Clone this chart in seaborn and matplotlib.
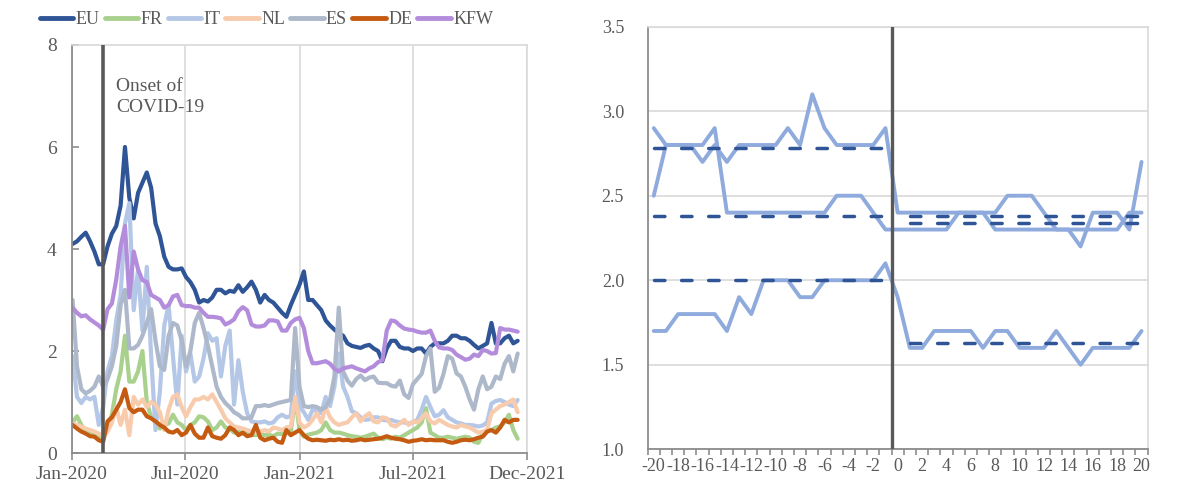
import matplotlib
matplotlib.use("Agg")
import matplotlib.pyplot as plt
import matplotlib.dates as mdates
from matplotlib.lines import Line2D
from matplotlib.ticker import FixedLocator, FuncFormatter
import numpy as np
import pandas as pd
import seaborn as sns

# ---- left panel: weekly spreads, Jan-2020 .. Dec-2021 ----
dates = pd.date_range("2020-01-02", periods=103, freq="7D")
series_names = ["EU", "FR", "IT", "NL", "ES", "DE", "KFW"]
onset_date = "2020-02-20"

eu = [4.10, 4.15, 4.24, 4.32, 4.15, 3.95, 3.70, 3.70, 4.05, 4.30,
      4.45, 4.85, 6.00, 5.00, 4.60, 5.10, 5.30, 5.50, 5.20, 4.50,
      4.25, 3.85, 3.65, 3.60, 3.60, 3.62, 3.45, 3.35, 3.20, 2.95,
      3.00, 2.97, 3.05, 3.20, 3.20, 3.13, 3.18, 3.16, 3.29, 3.16,
      3.25, 3.36, 3.20, 2.95, 3.10, 3.00, 2.95, 2.85, 2.75, 2.67,
      2.90, 3.10, 3.30, 3.56, 3.00, 3.00, 2.90, 2.80, 2.60, 2.50,
      2.42, 2.35, 2.30, 2.15, 2.10, 2.08, 2.06, 2.10, 2.12, 2.05,
      2.00, 1.80, 2.05, 2.20, 2.20, 2.08, 2.05, 2.05, 2.00, 2.05,
      2.05, 1.95, 2.08, 2.15, 2.15, 2.15, 2.20, 2.30, 2.30, 2.25,
      2.25, 2.20, 2.12, 2.05, 2.10, 2.15, 2.55, 2.15, 2.15, 2.25,
      2.30, 2.15, 2.20]

fr = [0.60, 0.72, 0.55, 0.42, 0.38, 0.34, 0.30, 0.30, 0.50, 0.75,
      1.25, 1.60, 2.30, 1.40, 1.40, 1.60, 2.00, 1.00, 0.70, 0.60,
      0.48, 0.55, 0.58, 0.75, 0.60, 0.55, 0.45, 0.55, 0.60, 0.72,
      0.70, 0.62, 0.45, 0.50, 0.62, 0.50, 0.48, 0.40, 0.42, 0.38,
      0.40, 0.36, 0.35, 0.38, 0.35, 0.36, 0.33, 0.38, 0.37, 0.40,
      0.40, 1.10, 0.45, 0.32, 0.36, 0.38, 0.40, 0.45, 0.60, 0.45,
      0.40, 0.40, 0.38, 0.35, 0.33, 0.32, 0.30, 0.32, 0.35, 0.38,
      0.30, 0.27, 0.30, 0.28, 0.32, 0.30, 0.35, 0.40, 0.45, 0.50,
      0.60, 0.88, 0.40, 0.35, 0.30, 0.30, 0.32, 0.30, 0.28, 0.30,
      0.32, 0.30, 0.22, 0.20, 0.38, 0.45, 0.45, 0.50, 0.52, 0.60,
      0.75, 0.45, 0.28]

it = [1.90, 1.10, 0.98, 1.10, 1.05, 1.10, 0.55, 0.90, 1.60, 1.90,
      2.60, 3.10, 4.50, 4.90, 2.80, 3.60, 2.40, 3.65, 1.90, 0.45,
      1.20, 2.50, 2.90, 1.90, 0.95, 2.30, 1.60, 1.95, 1.40, 1.50,
      1.85, 2.35, 2.20, 2.25, 1.50, 2.10, 2.40, 0.95, 1.82, 1.20,
      0.78, 0.62, 0.60, 0.60, 0.62, 0.58, 0.60, 0.70, 0.75, 0.70,
      0.72, 1.60, 0.92, 0.80, 0.65, 0.85, 0.82, 0.78, 1.10, 0.92,
      1.30, 1.95, 1.30, 1.10, 0.82, 0.78, 0.70, 0.65, 0.66, 0.70,
      0.70, 0.65, 0.64, 0.65, 0.62, 0.60, 0.60, 0.58, 0.60, 0.65,
      0.85, 1.10, 0.90, 0.72, 0.75, 0.84, 0.70, 0.65, 0.60, 0.58,
      0.55, 0.55, 0.54, 0.52, 0.54, 0.60, 0.97, 1.02, 1.04, 1.00,
      0.95, 0.92, 1.04]

nl = [0.58, 0.55, 0.52, 0.48, 0.45, 0.42, 0.38, 0.33, 0.42, 0.60,
      0.90, 0.55, 0.85, 0.35, 1.10, 0.95, 1.05, 0.90, 1.00, 0.95,
      0.80, 0.45, 0.85, 1.10, 1.15, 0.90, 0.72, 0.90, 1.05, 1.05,
      1.10, 1.05, 1.15, 1.00, 0.85, 0.68, 0.60, 0.52, 0.50, 0.48,
      0.45, 0.42, 0.40, 0.42, 0.45, 0.42, 0.50, 0.48, 0.45, 0.50,
      0.52, 1.10, 0.60, 0.50, 0.55, 0.65, 0.78, 0.60, 0.90, 0.70,
      0.60, 0.55, 0.58, 0.60, 0.70, 0.78, 0.62, 0.72, 0.78, 0.62,
      0.60, 0.70, 0.68, 0.55, 0.52, 0.58, 0.65, 0.55, 0.62, 0.60,
      0.68, 0.78, 0.62, 0.58, 0.65, 0.60, 0.55, 0.52, 0.50, 0.55,
      0.52, 0.50, 0.45, 0.40, 0.42, 0.45, 0.78, 0.85, 0.92, 0.95,
      1.00, 1.05, 0.80]

es = [3.00, 1.70, 1.25, 1.17, 1.22, 1.30, 1.50, 1.30, 1.45, 1.70,
      2.10, 2.90, 3.20, 2.05, 2.05, 2.12, 2.30, 2.55, 2.82, 2.20,
      1.70, 1.63, 2.30, 2.55, 2.50, 2.20, 1.70, 2.00, 2.55, 2.75,
      2.45, 2.10, 1.70, 1.30, 1.10, 0.98, 0.90, 0.80, 0.75, 0.68,
      0.68, 0.70, 0.92, 0.92, 0.94, 0.92, 0.95, 0.98, 1.00, 1.02,
      1.04, 2.45, 1.30, 0.92, 0.90, 0.92, 0.90, 0.85, 0.90, 1.05,
      1.50, 2.85, 1.60, 1.42, 1.32, 1.45, 1.52, 1.43, 1.48, 1.50,
      1.38, 1.37, 1.37, 1.32, 1.30, 1.42, 1.15, 1.08, 1.35, 1.45,
      1.55, 1.90, 2.05, 1.20, 1.28, 1.55, 1.90, 1.85, 1.56, 1.50,
      1.30, 1.05, 0.85, 1.25, 1.50, 1.25, 1.30, 1.50, 1.45, 1.75,
      1.90, 1.60, 1.95]

de = [0.55, 0.48, 0.42, 0.38, 0.33, 0.32, 0.25, 0.22, 0.62, 0.70,
      0.85, 1.00, 1.25, 0.88, 0.80, 0.85, 0.85, 0.72, 0.68, 0.62,
      0.55, 0.50, 0.42, 0.40, 0.45, 0.35, 0.40, 0.55, 0.38, 0.30,
      0.30, 0.50, 0.33, 0.30, 0.28, 0.35, 0.50, 0.45, 0.35, 0.40,
      0.33, 0.35, 0.55, 0.30, 0.25, 0.28, 0.30, 0.22, 0.20, 0.45,
      0.35, 0.40, 0.45, 0.35, 0.28, 0.25, 0.26, 0.25, 0.24, 0.26,
      0.25, 0.27, 0.25, 0.26, 0.24, 0.25, 0.27, 0.25, 0.26, 0.27,
      0.28, 0.30, 0.33, 0.30, 0.28, 0.27, 0.25, 0.22, 0.24, 0.25,
      0.27, 0.25, 0.26, 0.25, 0.25, 0.25, 0.22, 0.20, 0.22, 0.25,
      0.26, 0.25, 0.27, 0.30, 0.32, 0.42, 0.45, 0.40, 0.50, 0.65,
      0.60, 0.65, 0.65]

kfw = [2.85, 2.75, 2.68, 2.70, 2.62, 2.56, 2.50, 2.42, 2.82, 2.93,
       3.40, 4.05, 4.45, 3.05, 3.95, 3.60, 3.39, 3.35, 3.10, 3.05,
       3.00, 2.85, 2.90, 3.07, 3.10, 2.90, 2.88, 2.88, 2.85, 2.85,
       2.75, 2.67, 2.67, 2.66, 2.64, 2.52, 2.56, 2.62, 2.78, 2.86,
       2.80, 2.52, 2.48, 2.48, 2.50, 2.60, 2.60, 2.58, 2.40, 2.40,
       2.55, 2.62, 2.65, 2.45, 2.00, 1.76, 1.76, 1.78, 1.80, 1.75,
       1.65, 1.60, 1.66, 1.68, 1.70, 1.66, 1.63, 1.60, 1.66, 1.70,
       1.78, 1.82, 2.40, 2.60, 2.58, 2.50, 2.44, 2.42, 2.41, 2.38,
       2.36, 2.36, 2.40, 2.20, 2.07, 2.05, 2.05, 2.02, 1.93, 1.88,
       1.83, 1.85, 1.93, 1.90, 2.02, 2.00, 1.95, 1.96, 2.45, 2.42,
       2.42, 2.40, 2.38]

palette = {"EU": "#2F5597", "FR": "#A9D18E", "IT": "#B4C7E7", "NL": "#F8CBAD",
           "ES": "#ADB9CA", "DE": "#C55A11", "KFW": "#B48CDC"}

# ---- right panel: event window around the onset ----
event_k = list(range(-20, 21))
line_high = [2.9, 2.8, 2.8, 2.8, 2.7, 2.8, 2.7, 2.8, 2.8, 2.8,
             2.8, 2.9, 2.8, 3.1, 2.9, 2.8, 2.8, 2.8, 2.8, 2.9,
             2.4, 2.4, 2.4, 2.4, 2.4, 2.4, 2.4, 2.4, 2.4, 2.5,
             2.5, 2.5, 2.4, 2.3, 2.3, 2.2, 2.4, 2.4, 2.4, 2.3, 2.7]
line_mid = [2.5, 2.8, 2.8, 2.8, 2.8, 2.9, 2.4, 2.4, 2.4, 2.4,
            2.4, 2.4, 2.4, 2.4, 2.4, 2.5, 2.5, 2.5, 2.4, 2.3,
            2.3, 2.3, 2.3, 2.3, 2.3, 2.4, 2.4, 2.4, 2.3, 2.3,
            2.3, 2.3, 2.3, 2.3, 2.3, 2.3, 2.3, 2.3, 2.3, 2.4, 2.4]
line_low = [1.7, 1.7, 1.8, 1.8, 1.8, 1.8, 1.7, 1.9, 1.8, 2.0,
            2.0, 2.0, 1.9, 1.9, 2.0, 2.0, 2.0, 2.0, 2.0, 2.1,
            1.9, 1.6, 1.6, 1.7, 1.7, 1.7, 1.7, 1.6, 1.7, 1.7,
            1.6, 1.6, 1.6, 1.7, 1.6, 1.5, 1.6, 1.6, 1.6, 1.6, 1.7]
pre_k = list(range(-20, 0))
post_k = list(range(1, 21))
pre_means = [2.78, 2.38, 2.00]
post_means = [2.38, 2.34, 1.63]

TEXT = "#595959"
AXIS = "#8C8C8C"
GRID = "#D9D9D9"

sns.set_theme(style="white")
plt.rcParams["font.family"] = ["Liberation Serif", "DejaVu Serif"]
plt.rcParams["axes.unicode_minus"] = False

fig = plt.figure(figsize=(11.84, 4.87), dpi=100)
ax1 = fig.add_axes([0.0608, 0.0698, 0.3843, 0.8378])
ax2 = fig.add_axes([0.5470, 0.0774, 0.4223, 0.8678])

# left panel
left_df = pd.DataFrame({"date": dates, "EU": eu, "FR": fr, "IT": it, "NL": nl,
                        "ES": es, "DE": de, "KFW": kfw})
left_long = left_df.melt(id_vars="date", var_name="series", value_name="spread")
sns.lineplot(data=left_long, x="date", y="spread", hue="series",
             hue_order=series_names, palette=palette, linewidth=3,
             ax=ax1, legend=False)
ax1.axvline(pd.Timestamp(onset_date), color=TEXT, lw=2.6, zorder=10)
ax1.text(0.097, 0.918, "Onset of\nCOVID-19", transform=ax1.transAxes,
         ha="left", va="top", fontsize=14, color=TEXT, linespacing=1.3)

x_ticks = [pd.Timestamp(d) for d in ["2020-01-01", "2020-07-01", "2021-01-01",
                                       "2021-07-01", "2021-12-31"]]
ax1.set_xlim(x_ticks[0], x_ticks[-1])
ax1.xaxis.set_major_locator(FixedLocator(mdates.date2num(x_ticks)))
ax1.xaxis.set_major_formatter(mdates.DateFormatter("%b-%Y"))
ax1.set_ylim(0, 8)
ax1.set_yticks([0, 2, 4, 6, 8])
ax1.set_xlabel("")
ax1.set_ylabel("")
ax1.grid(axis="x", color=GRID, lw=1.2)
ax1.grid(axis="y", visible=False)
ax1.set_axisbelow(True)
ax1.tick_params(axis="x", bottom=True, direction="out", length=5, width=1.2,
                color=AXIS, labelsize=14, labelcolor=TEXT, pad=4)
ax1.tick_params(axis="y", left=True, direction="in", length=5, width=1.2,
                color=AXIS, labelsize=14, labelcolor=TEXT, pad=11)
for side in ["left", "bottom"]:
    ax1.spines[side].set_color(AXIS)
    ax1.spines[side].set_linewidth(1.3)
for side in ["top", "right"]:
    ax1.spines[side].set_color(GRID)
    ax1.spines[side].set_linewidth(1.2)

handles = [Line2D([], [], color=palette[n], lw=3.5) for n in series_names]
ax1.legend(handles, series_names, loc="center", bbox_to_anchor=(0.427, 1.062),
           ncol=7, frameon=False, fontsize=13, labelcolor=TEXT,
           handlelength=1.85, handletextpad=0.12, columnspacing=0.3,
           borderaxespad=0, borderpad=0)

# right panel
right_df = pd.DataFrame({"k": event_k, "high": line_high, "mid": line_mid,
                         "low": line_low})
right_long = right_df.melt(id_vars="k", var_name="group", value_name="spread")
sns.lineplot(data=right_long, x="k", y="spread", units="group", estimator=None,
             color="#8FAADC", linewidth=2.8, ax=ax2)
for m in pre_means:
    sns.lineplot(x=pre_k, y=[m] * len(pre_k), color="#2F5597", linewidth=2.5,
                 linestyle=(0, (3.0, 4.8)), dash_capstyle="round", ax=ax2)
for m in post_means:
    sns.lineplot(x=post_k, y=[m] * len(post_k), color="#2F5597", linewidth=2.5,
                 linestyle=(0, (3.0, 4.8)), dash_capstyle="round", ax=ax2)
ax2.axvline(-0.5, color=TEXT, lw=2.4, zorder=10)

ax2.set_xlim(-20.5, 20.5)
ax2.set_xticks(list(range(-20, 21, 2)))
ax2.set_xticks(np.arange(-20.5, 21.0, 1.0), minor=True)
ax2.set_ylim(1.0, 3.5)
ax2.set_yticks([1.0, 1.5, 2.0, 2.5, 3.0, 3.5])
ax2.yaxis.set_major_formatter(FuncFormatter(lambda v, p: f"{v:.1f}"))
ax2.set_xlabel("")
ax2.set_ylabel("")
ax2.grid(axis="y", color=GRID, lw=1.2)
ax2.grid(axis="x", visible=False)
ax2.set_axisbelow(True)
ax2.tick_params(axis="x", which="major", bottom=True, length=0,
                labelsize=13, labelcolor=TEXT, pad=6)
ax2.tick_params(axis="x", which="minor", bottom=True, direction="out",
                length=4, width=1.2, color=AXIS)
ax2.tick_params(axis="y", left=False, labelsize=13, labelcolor=TEXT, pad=11)
for side in ["left", "bottom"]:
    ax2.spines[side].set_color(AXIS)
    ax2.spines[side].set_linewidth(1.3)
for side in ["top", "right"]:
    ax2.spines[side].set_color(GRID)
    ax2.spines[side].set_linewidth(1.2)

fig.savefig("out.png", dpi=100)
